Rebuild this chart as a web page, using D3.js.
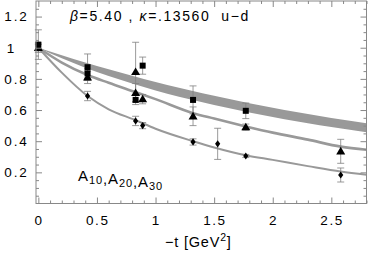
<!DOCTYPE html>
<html>
<head>
<meta charset="utf-8">
<script src="https://cdn.jsdelivr.net/npm/d3@7"></script>
<style>
  body { margin: 0; background: #fff; }
  svg text { font-family: "Liberation Sans", Arial, sans-serif; fill: #000; }
</style>
</head>
<body>
<div id="chart"></div>
<script>
// fit band for A10 (upper / lower edge)
const bandT     = [0, 0.2, 0.4, 0.6, 0.8, 1.0, 1.2, 1.4, 1.6, 1.8, 2.0, 2.2, 2.4, 2.6, 2.8];
const bandUpper = [1, .952, .905, .862, .82, .78, .743, .708, .675, .644, .615, .588, .562, .538, .515];
const bandLower = [1, .932, .872, .818, .77, .726, .686, .65, .616, .584, .555, .528, .503, .48, .458];

// fit curves for A20 and A30
const curveT   = [0, 0.2, 0.42, 0.6, 0.83, 1.0, 1.32, 1.5, 1.77, 2.0, 2.3, 2.58, 2.8];
const curveA20 = [1, .905, .825, .775, .715, .67, .58, .545, .495, .455, .41, .365, .345];
const curveA30 = [1, .84, .69, .605, .535, .48, .40, .36, .31, .28, .24, .205, .185];

// lattice points
const a10T   = [0, 0.42, 0.42, 0.83, 0.89, 1.32, 1.77];
const a10V   = [1.02, 0.875, 0.835, 0.665, 0.885, 0.665, 0.595];
const a10Err = [0.095, 0.085, 0.03, 0.03, 0.055, 0.09, 0.05];

const a20T   = [0, 0.42, 0.83, 0.83, 0.89, 1.32, 1.77, 2.58];
const a20V   = [1.0, 0.81, 0.845, 0.71, 0.67, 0.56, 0.49, 0.335];
const a20Err = [0.03, 0.04, 0.19, 0.06, 0.03, 0.06, 0.02, 0.077];

const a30T   = [0, 0.42, 0.83, 0.89, 1.32, 1.53, 1.77, 2.58];
const a30V   = [1.0, 0.69, 0.53, 0.50, 0.395, 0.383, 0.305, 0.183];
const a30Err = [0.02, 0.03, 0.03, 0.02, 0.02, 0.1, 0.01, 0.045];

const xMajor = [0, 0.5, 1, 1.5, 2, 2.5];
const yMajor = [0.2, 0.4, 0.6, 0.8, 1, 1.2];

const w = 382, h = 255;
const padL = 36, padR = 366.5, padT = 1, padB = 203.5;
const grey = "#999";

const x = d3.scaleLinear().domain([-0.02, 2.8]).range([padL, padR]);
const y = d3.scaleLinear().domain([0, 1.3]).range([padB, padT]);

const svg = d3.select("#chart").append("svg")
    .attr("width", w).attr("height", h);

// band
const band = bandT.map((t, i) => ({t: t, lo: bandLower[i], hi: bandUpper[i]}));
svg.append("path")
    .datum(band)
    .attr("fill", grey)
    .attr("d", d3.area().curve(d3.curveMonotoneX)
        .x(d => x(d.t)).y0(d => y(d.lo)).y1(d => y(d.hi)));

// curves
const line = d3.line().curve(d3.curveMonotoneX).x(d => x(d[0])).y(d => y(d[1]));
svg.append("path")
    .datum(curveT.map((t, i) => [t, curveA20[i]]))
    .attr("fill", "none").attr("stroke", grey).attr("stroke-width", 2.6)
    .attr("d", line);
svg.append("path")
    .datum(curveT.map((t, i) => [t, curveA30[i]]))
    .attr("fill", "none").attr("stroke", grey).attr("stroke-width", 2)
    .attr("d", line);

// error bars
function errorBars(ts, vs, es) {
    const g = svg.append("g").attr("stroke", "#808080").attr("stroke-width", 0.8);
    ts.forEach((t, i) => {
        const cx = x(t), y1 = y(vs[i] + es[i]), y2 = y(vs[i] - es[i]);
        g.append("line").attr("x1", cx).attr("x2", cx).attr("y1", y1).attr("y2", y2);
        g.append("line").attr("x1", cx - 3.5).attr("x2", cx + 3.5).attr("y1", y1).attr("y2", y1);
        g.append("line").attr("x1", cx - 3.5).attr("x2", cx + 3.5).attr("y1", y2).attr("y2", y2);
    });
}
errorBars(a10T, a10V, a10Err);
errorBars(a20T, a20V, a20Err);
errorBars(a30T, a30V, a30Err);

// markers
svg.append("g").selectAll("rect")
    .data(a10T.map((t, i) => [t, a10V[i]]))
    .enter().append("rect")
    .attr("x", d => x(d[0]) - 3).attr("y", d => y(d[1]) - 3)
    .attr("width", 6).attr("height", 6).attr("fill", "#000");

svg.append("g").selectAll("path")
    .data(a20T.map((t, i) => [t, a20V[i]]))
    .enter().append("path")
    .attr("transform", d => "translate(" + x(d[0]) + "," + y(d[1]) + ")")
    .attr("d", "M0,-4.5L4.5,3.2L-4.5,3.2Z").attr("fill", "#000");

svg.append("g").selectAll("path")
    .data(a30T.map((t, i) => [t, a30V[i]]))
    .enter().append("path")
    .attr("transform", d => "translate(" + x(d[0]) + "," + y(d[1]) + ")")
    .attr("d", "M0,-3.6L2.6,0L0,3.6L-2.6,0Z").attr("fill", "#000");

// frame
svg.append("rect")
    .attr("x", padL).attr("y", padT)
    .attr("width", padR - padL).attr("height", padB - padT)
    .attr("fill", "none").attr("stroke", "#888").attr("stroke-width", 1);

// ticks, inward on all four sides
const xMinor = d3.range(0, 2.81, 0.1).filter(v => xMajor.indexOf(+v.toFixed(1)) < 0);
const yMinor = d3.range(0.05, 1.3, 0.05).filter(v => yMajor.indexOf(+v.toFixed(2)) < 0);

function tickAxis(axis, pos, values, size) {
    const g = svg.append("g").attr("transform", pos)
        .call(axis.tickValues(values).tickSize(size).tickFormat(""));
    g.select(".domain").remove();
    g.selectAll("line").attr("stroke", "#888");
    return g;
}
tickAxis(d3.axisBottom(x), "translate(0," + padB + ")", xMajor, -6);
tickAxis(d3.axisBottom(x), "translate(0," + padB + ")", xMinor, -3);
tickAxis(d3.axisTop(x), "translate(0," + padT + ")", xMajor, -6);
tickAxis(d3.axisTop(x), "translate(0," + padT + ")", xMinor, -3);
tickAxis(d3.axisLeft(y), "translate(" + padL + ",0)", yMajor, -6);
tickAxis(d3.axisLeft(y), "translate(" + padL + ",0)", yMinor, -3);
tickAxis(d3.axisRight(y), "translate(" + padR + ",0)", yMajor, -6);
tickAxis(d3.axisRight(y), "translate(" + padR + ",0)", yMinor, -3);

// tick labels
svg.append("g").selectAll("text")
    .data(xMajor).enter().append("text")
    .attr("x", d => x(d) + 0.8).attr("y", 225)
    .attr("text-anchor", "middle")
    .style("font-size", "13.5px").style("letter-spacing", "1.6px")
    .text(d => d);

svg.append("g").selectAll("text")
    .data(yMajor).enter().append("text")
    .attr("x", d => Number.isInteger(d) ? 16 : 28.5)
    .attr("y", d => y(d) + 4.8)
    .attr("text-anchor", "end")
    .style("font-size", "13.5px").style("letter-spacing", "1.8px")
    .text(d => d);

// title
const title = svg.append("text").attr("x", 70).attr("y", 20.5)
    .style("font-size", "14px").style("letter-spacing", "1.6px");
title.append("tspan").style("font-style", "italic").text("β");
title.append("tspan").text("=5.40 , ");
title.append("tspan").style("font-style", "italic").text("κ");
title.append("tspan").text("=.13560\u00a0\u00a0u−d");

// series label
const lab = svg.append("text").attr("x", 78).attr("y", 181)
    .style("font-size", "15px").style("letter-spacing", "0.9px");
["10", "20", "30"].forEach((s, i) => {
    lab.append("tspan").text((i > 0 ? "," : "") + "A");
    lab.append("tspan").attr("dy", 3).style("font-size", "11px").text(s);
    lab.append("tspan").attr("dy", -3).text("");
});

// x-axis label
const xl = svg.append("text").attr("x", 165).attr("y", 247)
    .style("font-size", "14.5px").style("letter-spacing", "0.8px");
xl.append("tspan").text("−t [GeV");
xl.append("tspan").attr("dy", -6).style("font-size", "10.5px").text("2");
xl.append("tspan").attr("dy", 6).text("]");
</script>
</body>
</html>
